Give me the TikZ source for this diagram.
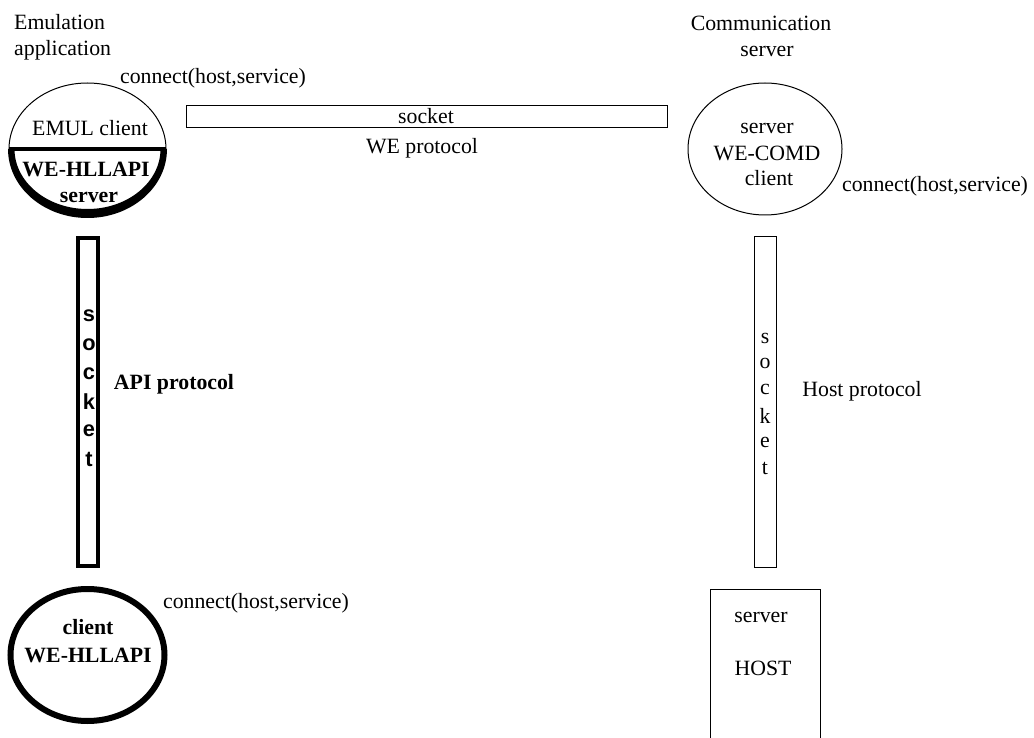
\documentclass[tikz,border=0pt]{standalone}
\usepackage{fontspec}
\setmainfont{Liberation Serif}
\setsansfont{Liberation Sans}
\tikzset{x=1pt,y=-1pt,
 lbl/.style={inner sep=0pt,font=\fontsize{21.8}{26}\selectfont,align=center,anchor=center},
 blbl/.style={lbl,font=\fontsize{21.8}{26}\selectfont\bfseries},
 thinbox/.style={draw=black,line width=1pt,fill=white,inner sep=0pt},
 thickbox/.style={draw=black,line width=3.5pt,fill=white,inner sep=0pt},
 thinell/.style={draw=black,line width=1pt},
 thickell/.style={draw=black,line width=6pt},
 lettersans/.style={inner sep=0pt,font=\fontsize{21.8}{26}\selectfont\sffamily\bfseries},
 letterserif/.style={inner sep=0pt,font=\fontsize{21.8}{26}\selectfont}}
\begin{document}
\begin{tikzpicture}
\useasboundingbox (0,0) rectangle (1034,738);
\node[lbl,anchor=west] (emul1) at (14,22) {Emulation};
\node[lbl,anchor=west] (emul2) at (14,50) {application};
\node[lbl] (comm1) at (761,23) {Communication};
\node[lbl] (comm2) at (767,51) {server};
\node[lbl] (c1) at (213,78) {connect(host,service)};
% top-left ellipse
\draw[thinell] (9,149) arc [start angle=180,end angle=360,x radius=78.5,y radius=66];
\fill[black] (8,149) arc [start angle=180,end angle=0,x radius=79.5,y radius=69]
  -- (160.5,149) arc [start angle=0,end angle=180,x radius=73,y radius=60] -- cycle;
\draw[line width=4.5pt] (9,149) -- (166,149);
\node[lbl] (ec) at (90,128) {EMUL client};
\node[blbl] (wh) at (86,169) {WE-HLLAPI};
\node[blbl] (sv) at (89,197) {server};
% top socket
\node[thinbox,minimum width=481pt,minimum height=22pt] (sock) at (426.5,117) {};
\node[lbl] (socklbl) at (426,116) {socket};
\node[lbl] (wep) at (422,148) {WE protocol};
% server ellipse
\draw[thinell] (765,149) ellipse [x radius=77,y radius=66];
\node[lbl] (sr) at (767,128) {server};
\node[lbl] (wc) at (767,153) {WE-COMD};
\node[lbl] (cl) at (769,178) {client};
\node[lbl] (c2) at (935,186) {connect(host,service)};
% left vertical socket
\node[thickbox,minimum width=20pt,minimum height=328pt] (ls) at (88,402) {};
\node[lettersans] (l1) at (89,316) {s};
\node[lettersans] (l2) at (89,345) {o};
\node[lettersans] (l3) at (89,374) {c};
\node[lettersans] (l4) at (89,402) {k};
\node[lettersans] (l5) at (89,431) {e};
\node[lettersans] (l6) at (89,459) {t};
\node[blbl] (api) at (174,384) {API protocol};
% right vertical socket
\node[thinbox,minimum width=22pt,minimum height=330pt] (rs) at (765,402) {};
\node[letterserif] (r1) at (765,338) {s};
\node[letterserif] (r2) at (765,363) {o};
\node[letterserif] (r3) at (765,389) {c};
\node[letterserif] (r4) at (765,416) {k};
\node[letterserif] (r5) at (765,442) {e};
\node[letterserif] (r6) at (765,468) {t};
\node[lbl] (hp) at (862,391) {Host protocol};
% bottom-left ellipse
\draw[thickell] (87.5,655) ellipse [x radius=77,y radius=66];
\node[blbl] (cb) at (88,627) {client};
\node[blbl] (wb) at (88,655) {WE-HLLAPI};
\node[lbl] (c3) at (256,603) {connect(host,service)};
% host box
\draw[line width=1pt] (710,738) -- (710,589) -- (820,589) -- (820,738);
\node[lbl] (hs) at (761,617) {server};
\node[lbl] (hh) at (763,668) {HOST};
\end{tikzpicture}
\end{document}
